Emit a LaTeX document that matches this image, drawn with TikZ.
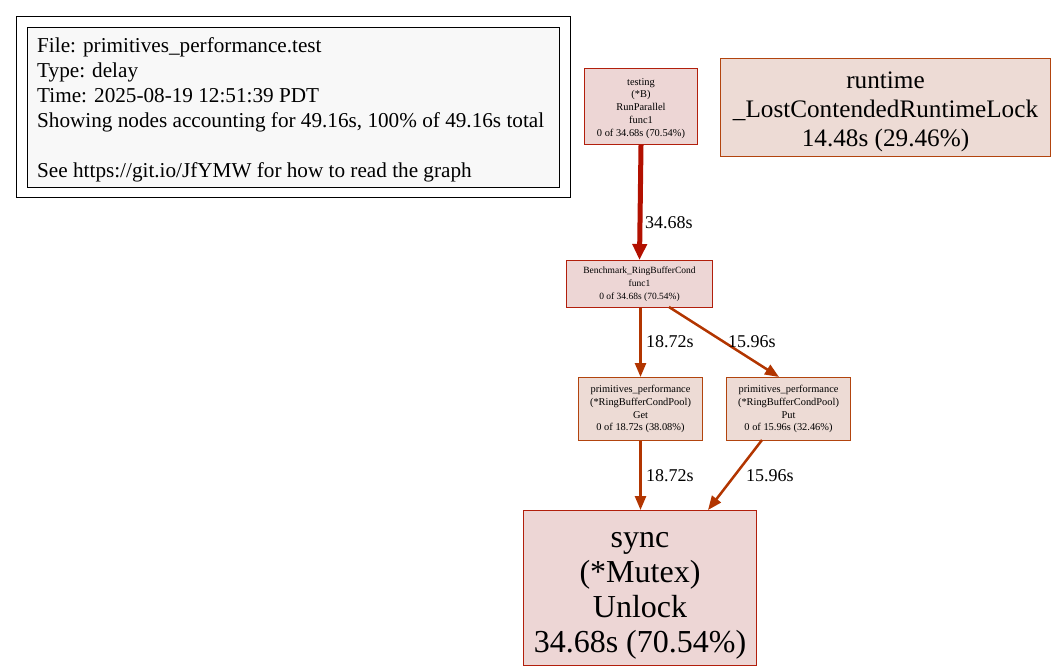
\documentclass[tikz,border=0pt]{standalone}
\usepackage{fontspec}
\setmainfont{Liberation Serif}
\usetikzlibrary{arrows.meta}
\definecolor{hotfill}{HTML}{EDD6D5}
\definecolor{hotline}{HTML}{B21F0C}
\definecolor{warmfill}{HTML}{EDDBD5}
\definecolor{warmline}{HTML}{B2440E}
\definecolor{edgered}{HTML}{B21000}
\definecolor{edgeorange}{HTML}{B23500}
\definecolor{legendfill}{HTML}{F8F8F8}
\tikzset{
  pnode/.style={draw, line width=1pt, inner sep=0pt, align=center, anchor=north west},
  hot/.style={pnode, draw=hotline, fill=hotfill},
  warm/.style={pnode, draw=warmline, fill=warmfill},
  ntext/.style={inner sep=0pt, align=center},
  elabel/.style={font=\fontsize{18}{18}\selectfont, anchor=west, inner sep=0pt},
  edgehot/.style={draw=edgered, line width=5pt, -{Triangle[length=16pt,width=14pt]}},
  edgewarm/.style={draw=edgeorange, line width=2.5pt, -{Triangle[length=14pt,width=11pt]}},
}
\begin{document}
\begin{tikzpicture}[x=1pt,y=-1pt]
\useasboundingbox (0,0) rectangle (1056,670);
% legend
\draw[line width=1pt] (16,16) rectangle (570,197);
\draw[line width=1pt, fill=legendfill] (27,27) rectangle (559,187);
\node[anchor=north west, align=left, inner sep=0pt, font=\fontsize{21.2}{25}\selectfont] (legend) at (37,37)
  {File: primitives\_performance.test\\Type: delay\\Time: 2025-08-19 12:51:39 PDT\\Showing nodes accounting for 49.16s, 100\% of 49.16s total\\[25pt]See https://git.io/JfYMW for how to read the graph};
% nodes
\node[hot, minimum width=113pt, minimum height=76pt] (testing) at (584,68) {};
\node[ntext, font=\fontsize{10.4}{12.9}\selectfont] (testingtxt) at ([yshift=-2pt]testing.center)
  {testing\\(*B)\\RunParallel\\func1\\0 of 34.68s (70.54\%)};
\node[warm, minimum width=330pt, minimum height=98pt] (runtime) at (720,58) {};
\node[ntext, font=\fontsize{25.2}{29}\selectfont] (runtimetxt) at ([yshift=-4pt]runtime.center)
  {runtime\\\_LostContendedRuntimeLock\\14.48s (29.46\%)};
\node[hot, minimum width=146pt, minimum height=47pt, font=\fontsize{9.5}{12.9}\selectfont] (bench) at (566,260)
  {Benchmark\_RingBufferCond\\func1\\0 of 34.68s (70.54\%)};
\node[warm, minimum width=124pt, minimum height=63pt, font=\fontsize{10.4}{12.9}\selectfont] (get) at (578,377)
  {primitives\_performance\\(*RingBufferCondPool)\\Get\\0 of 18.72s (38.08\%)};
\node[warm, minimum width=124pt, minimum height=63pt, font=\fontsize{10.4}{12.9}\selectfont] (put) at (726,377)
  {primitives\_performance\\(*RingBufferCondPool)\\Put\\0 of 15.96s (32.46\%)};
\node[hot, minimum width=233pt, minimum height=155pt] (sync) at (523,510) {};
\node[ntext, font=\fontsize{32}{35}\selectfont] (synctxt) at ([yshift=-8pt]sync.center)
  {sync\\(*Mutex)\\Unlock\\34.68s (70.54\%)};
% edges
\draw[edgehot] (testing.south) -- (bench.north);
\node[elabel] (l1) at (645,223) {34.68s};
\draw[edgewarm] (bench.south -| get.north) -- (get.north);
\node[elabel] (l2) at (646,342) {18.72s};
\coordinate (bput) at (669,307);
\coordinate (pputt) at (779,377);
\draw[edgewarm] (bput) -- (pputt);
\node[elabel] (l3) at (728,342) {15.96s};
\draw[edgewarm] (get.south) -- (get.south |- sync.north);
\node[elabel] (l4) at (646,476) {18.72s};
\coordinate (ps) at (762,440);
\coordinate (sp) at (708,510);
\draw[edgewarm] (ps) -- (sp);
\node[elabel] (l5) at (746,476) {15.96s};
\end{tikzpicture}
\end{document}
